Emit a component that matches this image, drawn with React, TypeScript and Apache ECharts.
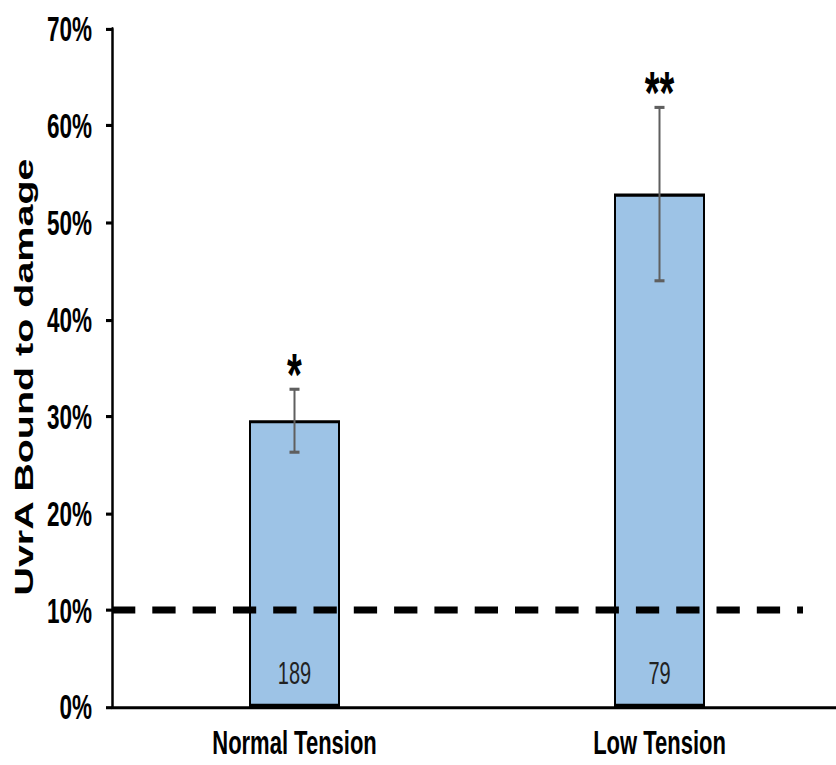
import React, { useEffect, useRef } from "react";
import * as echarts from "echarts";

const categories = ["Normal Tension", "Low Tension"];
const boundValues = [0.296, 0.53];
const errLow = [0.263, 0.44];
const errHigh = [0.328, 0.619];
const sampleCounts = [189, 79];
const significance = ["*", "**"];
const thresholdValue = 0.1;
const thresholdEnd = 0.9466; // fraction of plot width where the dashed line stops
const yTicks = [0, 0.1, 0.2, 0.3, 0.4, 0.5, 0.6, 0.7];

const FONT = "Arial";
const CHART_W = 842;
const CHART_H = 494;
const STRETCH = 765 / CHART_H;

export default function App() {
  const ref = useRef<HTMLDivElement>(null);
  useEffect(() => {
    if (!ref.current) return;
    const chart = echarts.init(ref.current, undefined, { renderer: "svg" });
    const errData = categories.map((_, i) => [i, errLow[i], errHigh[i]]);
    chart.setOption({
      animation: false,
      backgroundColor: "#ffffff",
      grid: { left: 112, right: 0, top: 18.7, bottom: 37.5, containLabel: false },
      graphic: [
        {
          type: "text",
          x: 24,
          y: 243.5,
          rotation: Math.PI / 2,
          style: {
            text: "UvrA Bound to damage",
            fontFamily: FONT,
            fontWeight: "bold",
            fontSize: 25.5,
            fill: "#000",
            align: "center",
            verticalAlign: "middle",
          },
        },
      ],
      xAxis: [
        {
          type: "category",
          data: categories,
          axisLine: { lineStyle: { color: "#000", width: 2 } },
          axisTick: { show: false },
          axisLabel: {
            color: "#000",
            fontFamily: FONT,
            fontWeight: "bold",
            fontSize: 22,
            margin: 12,
          },
        },
        { type: "value", min: 0, max: 1, show: false },
      ],
      yAxis: {
        type: "value",
        min: 0,
        max: 0.7,
        interval: 0.1,
        axisLine: { show: true, lineStyle: { color: "#000", width: 2.5 } },
        axisTick: { show: true, length: 6, lineStyle: { color: "#000", width: 2 } },
        splitLine: { show: false },
        axisLabel: {
          color: "#000",
          fontFamily: FONT,
          fontWeight: "bold",
          fontSize: 22.5,
          margin: 20,
          formatter: (v: number) => {
            const t = yTicks.find((x) => Math.abs(x - v) < 1e-6);
            return Math.round((t ?? v) * 100) + "%";
          },
        },
      },
      series: [
        {
          type: "bar",
          data: boundValues,
          barWidth: 91,
          itemStyle: { color: "#9DC3E6", borderColor: "#000", borderWidth: 2 },
          label: {
            show: true,
            position: "insideBottom",
            distance: 12,
            formatter: (p: any) => String(sampleCounts[p.dataIndex]),
            color: "#222",
            fontFamily: FONT,
            fontSize: 20,
          },
          z: 2,
        },
        {
          type: "line",
          xAxisIndex: 1,
          data: [
            [0, thresholdValue],
            [thresholdEnd, thresholdValue],
          ],
          symbol: "none",
          lineStyle: { color: "#000", width: 4.5, type: [23.3, 17], cap: "butt" },
          z: 5,
        },
        {
          type: "custom",
          data: errData,
          encode: { x: 0, y: [1, 2] },
          z: 6,
          renderItem: (params: any, api: any) => {
            const i = api.value(0);
            const lo = api.coord([i, api.value(1)]);
            const hi = api.coord([i, api.value(2)]);
            const cap = 5;
            const st = { stroke: "#5f5f5f", lineWidth: 2 };
            return {
              type: "group",
              children: [
                { type: "line", shape: { x1: lo[0], y1: lo[1], x2: hi[0], y2: hi[1] }, style: st },
                { type: "line", shape: { x1: lo[0] - cap, y1: lo[1], x2: lo[0] + cap, y2: lo[1] }, style: st },
                { type: "line", shape: { x1: hi[0] - cap, y1: hi[1], x2: hi[0] + cap, y2: hi[1] }, style: st },
                {
                  type: "text",
                  x: hi[0],
                  y: hi[1] - 10,
                  style: {
                    text: significance[params.dataIndex],
                    fontFamily: FONT,
                    fontWeight: "bold",
                    fontSize: 38,
                    fill: "#000",
                    align: "center",
                    verticalAlign: "middle",
                  },
                },
              ],
            };
          },
        },
      ],
    });
    return () => chart.dispose();
  }, []);
  return (
    <div
      style={{
        position: "fixed",
        left: 0,
        top: 0,
        width: 836,
        height: 765,
        overflow: "hidden",
        background: "#fff",
      }}
    >
      <div
        ref={ref}
        style={{
          width: CHART_W,
          height: CHART_H,
          transform: `scaleY(${STRETCH})`,
          transformOrigin: "0 0",
        }}
      />
    </div>
  );
}
